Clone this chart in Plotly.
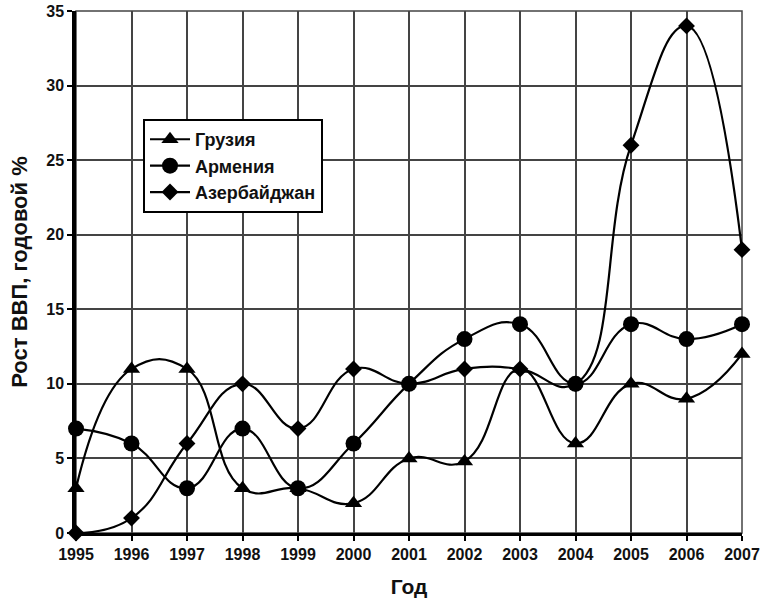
import plotly.graph_objects as go

years = [1995, 1996, 1997, 1998, 1999, 2000, 2001, 2002, 2003, 2004, 2005, 2006, 2007]
georgia = [3, 11, 11, 3, 3, 2, 5, 4.8, 11, 6, 10, 9, 12]
armenia = [7, 6, 3, 7, 3, 6, 10, 13, 14, 10, 14, 13, 14]
azerbaijan = [0, 1, 6, 10, 7, 11, 10, 11, 11, 10, 26, 34, 19]
names = ["Грузия", "Армения", "Азербайджан"]
y_ticks = [0, 5, 10, 15, 20, 25, 30, 35]

FONT = "Liberation Sans, Arial, sans-serif"

fig = go.Figure()
series = [
    (names[0], georgia, "triangle-up", 15),
    (names[1], armenia, "circle", 16),
    (names[2], azerbaijan, "diamond", 13),
]
for i, (name, vals, sym, size) in enumerate(series):
    fig.add_trace(go.Scatter(
        x=years, y=vals, name=name, mode="lines+markers", legendgroup=f"g{i}",
        line=dict(color="black", width=2.2, shape="spline", smoothing=1.3),
        marker=dict(symbol=sym, size=size, color="black"),
        cliponaxis=False,
    ))

fig.update_layout(
    width=762, height=612,
    margin=dict(l=76, r=20, t=11, b=79),
    paper_bgcolor="white", plot_bgcolor="white",
    font=dict(family=FONT, color="#111", size=16, weight="bold"),
    showlegend=True,
    legend=dict(
        x=0.1006, y=0.793, xanchor="left", yanchor="top",
        bgcolor="white", bordercolor="black", borderwidth=2,
        font=dict(family=FONT, size=18, color="#111", weight="bold"),
        itemwidth=40, traceorder="grouped", tracegroupgap=0,
    ),
    xaxis=dict(
        range=[1995, 2007], tickvals=years, ticktext=[str(y) for y in years],
        showgrid=True, gridcolor="#444", gridwidth=1.5,
        showline=True, linecolor="black", linewidth=2.5, mirror=False,
        ticks="outside", ticklen=5, tickcolor="black", tickwidth=1.5,
        tickfont=dict(family=FONT, size=16, weight="bold"),
        title=dict(text="Год", font=dict(family=FONT, size=21, weight="bold"), standoff=18),
        zeroline=False, automargin=False,
    ),
    yaxis=dict(
        range=[0, 35], tickvals=y_ticks,
        showgrid=True, gridcolor="#444", gridwidth=1.5,
        showline=True, linecolor="black", linewidth=3.5,
        ticks="outside", ticklen=5, tickcolor="black", tickwidth=1.5,
        tickfont=dict(family=FONT, size=16, weight="bold"),
        title=dict(text="Рост ВВП, годовой %", font=dict(family=FONT, size=22, weight="bold"), standoff=14),
        zeroline=False, automargin=False,
    ),
)
fig.add_shape(type="rect", xref="paper", yref="paper", x0=0, y0=0, x1=1, y1=1,
              line=dict(color="#444", width=1.5), layer="below")

# remove the default page margin so the 762x612 figure fills the window exactly
fig.write_html("out.html", config={"displayModeBar": False},
               post_script="document.body.style.margin='0';")
